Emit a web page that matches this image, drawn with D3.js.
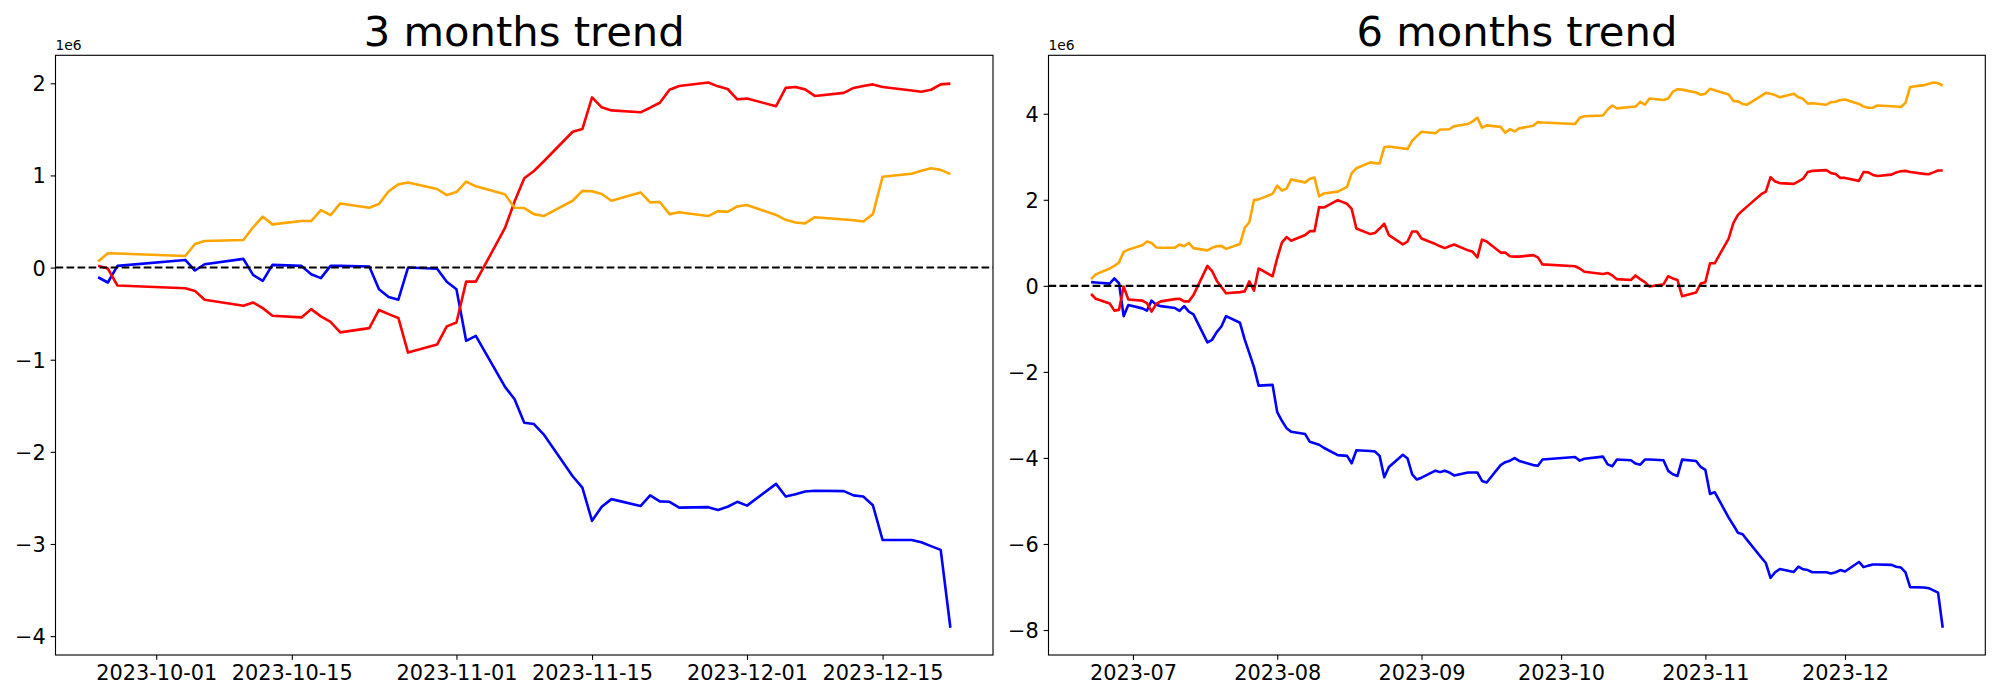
<!DOCTYPE html>
<html>
<head>
<meta charset="utf-8">
<script src="https://cdn.jsdelivr.net/npm/d3@7"></script>
<style>
  html, body { margin: 0; padding: 0; background: #fff; }
  svg { display: block; }
  text { font-family: "DejaVu Sans", sans-serif; fill: #000; }
</style>
</head>
<body>
<svg id="chart" width="2000" height="700"></svg>
<script>
// ---------------- DATA (values in units of 1e6) ----------------
const dates3 = [
  "2023-09-25","2023-09-26","2023-09-27",
  "2023-10-04","2023-10-05","2023-10-06","2023-10-10","2023-10-11","2023-10-12","2023-10-13",
  "2023-10-16","2023-10-17","2023-10-18","2023-10-19","2023-10-20","2023-10-23","2023-10-24",
  "2023-10-25","2023-10-26","2023-10-27","2023-10-30","2023-10-31",
  "2023-11-01","2023-11-02","2023-11-03","2023-11-06","2023-11-07","2023-11-08","2023-11-09",
  "2023-11-10","2023-11-13","2023-11-14","2023-11-15","2023-11-16","2023-11-17","2023-11-20",
  "2023-11-21","2023-11-22","2023-11-23","2023-11-24","2023-11-27","2023-11-28","2023-11-29","2023-11-30",
  "2023-12-01","2023-12-04","2023-12-05","2023-12-06","2023-12-07","2023-12-08","2023-12-11",
  "2023-12-12","2023-12-13","2023-12-14","2023-12-15","2023-12-18","2023-12-19","2023-12-20",
  "2023-12-21","2023-12-22"
];
const blue3 = [
  -0.105,-0.162,0.018,
  0.083,-0.032,0.036,0.094,-0.079,-0.144,0.029,0.018,-0.072,-0.115,0.018,0.018,0.011,-0.236,-0.319,-0.348,0.0,-0.012,-0.153,
  -0.236,-0.795,-0.741,-1.292,-1.429,-1.685,-1.698,-1.81,-2.265,-2.389,-2.749,-2.596,-2.513,-2.588,-2.472,-2.538,-2.542,-2.605,-2.600,-2.63,-2.596,-2.542,
  -2.584,-2.348,-2.484,-2.46,-2.43,-2.422,-2.426,-2.472,-2.484,-2.58,-2.957,-2.957,-2.981,-3.023,-3.064,-3.909
];
const red3 = [
  0.02,-0.01,-0.195,
  -0.224,-0.253,-0.35,-0.415,-0.379,-0.44,-0.523,-0.541,-0.451,-0.53,-0.59,-0.703,-0.657,-0.46,-0.505,-0.547,-0.923,-0.836,-0.638,
  -0.596,-0.153,-0.153,0.427,0.716,0.969,1.048,1.151,1.474,1.503,1.847,1.739,1.706,1.685,1.735,1.789,1.93,1.971,2.008,1.967,1.938,1.826,
  1.834,1.752,1.95,1.959,1.934,1.863,1.896,1.95,1.971,1.988,1.959,1.921,1.909,1.93,1.988,1.996
];
const orange3 = [
  0.065,0.155,0.152,
  0.126,0.256,0.289,0.30,0.437,0.552,0.469,0.505,0.505,0.624,0.57,0.696,0.649,0.69,0.828,0.903,0.923,0.853,0.787,
  0.82,0.932,0.882,0.795,0.65,0.646,0.58,0.559,0.725,0.832,0.828,0.799,0.725,0.816,0.708,0.712,0.58,0.60,0.559,0.613,0.605,0.663,
  0.679,0.571,0.518,0.489,0.48,0.547,0.522,0.513,0.50,0.58,0.986,1.019,1.052,1.077,1.06,1.014
];

const dates6 = [
  "2023-06-22","2023-06-23","2023-06-26","2023-06-27","2023-06-28","2023-06-29","2023-06-30",
  "2023-07-03","2023-07-04","2023-07-05","2023-07-06","2023-07-07","2023-07-10","2023-07-11",
  "2023-07-12","2023-07-13","2023-07-14","2023-07-17","2023-07-18","2023-07-19","2023-07-20",
  "2023-07-21","2023-07-24","2023-07-25","2023-07-26","2023-07-27","2023-07-28","2023-07-31",
  "2023-08-01","2023-08-02","2023-08-03","2023-08-04","2023-08-07","2023-08-08","2023-08-09",
  "2023-08-10","2023-08-11","2023-08-14","2023-08-16","2023-08-17","2023-08-18","2023-08-21",
  "2023-08-22","2023-08-23","2023-08-24","2023-08-25","2023-08-28","2023-08-29","2023-08-30","2023-08-31",
  "2023-09-01","2023-09-04","2023-09-05","2023-09-06","2023-09-07","2023-09-08","2023-09-11",
  "2023-09-12","2023-09-13","2023-09-14","2023-09-15","2023-09-18","2023-09-19","2023-09-20",
  "2023-09-21","2023-09-22","2023-09-25","2023-09-26","2023-09-27",
  "2023-10-04","2023-10-05","2023-10-06","2023-10-10","2023-10-11","2023-10-12","2023-10-13",
  "2023-10-16","2023-10-17","2023-10-18","2023-10-19","2023-10-20","2023-10-23","2023-10-24",
  "2023-10-25","2023-10-26","2023-10-27","2023-10-30","2023-10-31",
  "2023-11-01","2023-11-02","2023-11-03","2023-11-06","2023-11-07","2023-11-08","2023-11-09",
  "2023-11-10","2023-11-13","2023-11-14","2023-11-15","2023-11-16","2023-11-17","2023-11-20",
  "2023-11-21","2023-11-22","2023-11-23","2023-11-24","2023-11-27","2023-11-28","2023-11-29","2023-11-30",
  "2023-12-01","2023-12-04","2023-12-05","2023-12-06","2023-12-07","2023-12-08","2023-12-11",
  "2023-12-12","2023-12-13","2023-12-14","2023-12-15","2023-12-18","2023-12-19","2023-12-20",
  "2023-12-21","2023-12-22"
];
const blue6 = [
  0.086,0.077,0.052,0.172,0.06,-0.704,-0.447,
  -0.524,-0.576,-0.344,-0.438,-0.472,-0.515,-0.584,-0.472,-0.601,-0.662,-1.314,-1.254,-1.074,-0.945,-0.704,-0.859,-1.246,-1.564,-1.89,-2.32,-2.302,
  -2.938,-3.136,-3.308,-3.393,-3.445,-3.625,-3.66,-3.694,-3.763,-3.935,-3.952,-4.124,-3.823,-3.84,-3.849,-3.952,-4.45,-4.21,-3.926,-4.012,-4.381,-4.502,
  -4.459,-4.296,-4.33,-4.296,-4.338,-4.407,-4.338,-4.338,-4.338,-4.536,-4.57,-4.167,-4.098,-4.063,-4.003,-4.07,-4.167,-4.18,-4.038,
  -3.978,-4.063,-4.021,-3.969,-4.15,-4.192,-4.038,-4.055,-4.132,-4.158,-4.038,-4.038,-4.055,-4.30,-4.38,-4.42,-4.04,-4.072,-4.21,
  -4.278,-4.837,-4.794,-5.387,-5.558,-5.739,-5.773,-5.91,-6.314,-6.443,-6.787,-6.658,-6.581,-6.65,-6.529,-6.589,-6.606,-6.658,-6.658,-6.684,-6.658,-6.606,
  -6.641,-6.418,-6.538,-6.503,-6.478,-6.478,-6.486,-6.529,-6.546,-6.658,-7.002,-7.01,-7.027,-7.079,-7.13,-7.947
];
const red6 = [
  -0.189,-0.30,-0.412,-0.576,-0.558,-0.017,-0.318,
  -0.344,-0.404,-0.601,-0.421,-0.361,-0.309,-0.30,-0.361,-0.361,-0.215,0.464,0.344,0.12,-0.026,-0.172,-0.146,-0.129,0.103,-0.112,0.404,0.223,
  0.644,1.005,1.134,1.048,1.18,1.271,1.271,1.83,1.82,1.993,1.907,1.787,1.332,1.203,1.229,1.332,1.443,1.177,0.962,1.031,1.263,1.263,
  1.10,0.971,0.919,0.876,0.919,0.962,0.825,0.79,0.661,1.074,1.031,0.773,0.773,0.687,0.679,0.679,0.713,0.662,0.498,
  0.455,0.404,0.326,0.275,0.30,0.241,0.155,0.137,0.241,0.155,0.086,-0.017,0.034,0.223,0.172,0.137,-0.241,-0.155,0.052,
  0.086,0.524,0.524,1.10,1.46,1.649,1.753,1.847,2.13,2.19,2.526,2.423,2.388,2.371,2.43,2.491,2.646,2.672,2.689,2.62,2.6,2.509,
  2.509,2.44,2.646,2.637,2.577,2.552,2.586,2.637,2.663,2.672,2.646,2.603,2.595,2.637,2.68,2.68
];
const orange6 = [
  0.155,0.266,0.404,0.464,0.541,0.79,0.842,
  0.945,1.031,0.997,0.893,0.885,0.885,0.962,0.919,0.997,0.876,0.825,0.885,0.919,0.928,0.859,0.971,1.349,1.478,1.993,2.01,2.139,
  2.328,2.216,2.259,2.474,2.405,2.491,2.517,2.079,2.148,2.19,2.302,2.62,2.732,2.869,2.852,2.844,3.222,3.239,3.196,3.179,3.376,3.479,
  3.582,3.548,3.634,3.634,3.64,3.711,3.763,3.823,3.909,3.677,3.729,3.694,3.557,3.643,3.591,3.66,3.72,3.806,3.797,
  3.763,3.909,3.943,3.96,4.098,4.192,4.124,4.158,4.167,4.278,4.21,4.356,4.321,4.356,4.51,4.57,4.561,4.493,4.442,
  4.467,4.579,4.545,4.45,4.30,4.287,4.227,4.21,4.416,4.485,4.467,4.433,4.381,4.467,4.381,4.347,4.235,4.244,4.21,4.27,4.278,4.321,
  4.33,4.227,4.167,4.141,4.141,4.192,4.175,4.167,4.158,4.253,4.622,4.665,4.699,4.725,4.708,4.656
];

const yTicks3 = [-4, -3, -2, -1, 0, 1, 2];
const yTicks6 = [-8, -6, -4, -2, 0, 2, 4];
const xTicks3 = ["2023-10-01","2023-10-15","2023-11-01","2023-11-15","2023-12-01","2023-12-15"];
const xTickLabels3 = ["2023-10-01","2023-10-15","2023-11-01","2023-11-15","2023-12-01","2023-12-15"];
const xTicks6 = ["2023-07-01","2023-08-01","2023-09-01","2023-10-01","2023-11-01","2023-12-01"];
const xTickLabels6 = ["2023-07","2023-08","2023-09","2023-10","2023-11","2023-12"];
const titles = ["3 months trend", "6 months trend"];
const seriesColors = ["blue", "red", "orange"];
const offsetLabel = "1e6";

// ---------------- DRAWING ----------------
const svg = d3.select("#chart");
svg.append("rect").attr("width", 2000).attr("height", 700).attr("fill", "#fff");
const parse = d3.utcParse("%Y-%m-%d");

const TICK_FS = 20.83, TITLE_FS = 41.67, OFFSET_FS = 13.89;
const TICK_LEN = 4.86, TICK_PAD = 4.86, LW = 2.6, DASH_LW = 2.08;

function panel(box, title, dates, series, yTicks, xTicks, xLabels) {
  const d = dates.map(parse);
  const g = svg.append("g");
  const x0 = box.x0, x1 = box.x1, y0 = box.y0, y1 = box.y1;

  const [dmin, dmax] = d3.extent(d);
  const span = dmax - dmin;
  const x = d3.scaleUtc()
    .domain([new Date(+dmin - 0.05 * span), new Date(+dmax + 0.05 * span)])
    .range([x0, x1]);

  const all = series.flatMap(s => s.values);
  const [vmin, vmax] = d3.extent(all);
  const vs = vmax - vmin;
  const y = d3.scaleLinear()
    .domain([vmin - 0.05 * vs, vmax + 0.05 * vs])
    .range([y1, y0]);

  // series lines
  const line = d3.line().x((v, i) => x(d[i])).y(v => y(v));
  series.forEach(s => {
    g.append("path")
      .attr("d", line(s.values))
      .attr("fill", "none")
      .attr("stroke", s.color)
      .attr("stroke-width", LW)
      .attr("stroke-linejoin", "round")
      .attr("stroke-linecap", "butt");
  });

  // zero dashed line
  g.append("line")
    .attr("x1", x0).attr("x2", x1)
    .attr("y1", y(0)).attr("y2", y(0))
    .attr("stroke", "#000")
    .attr("stroke-width", DASH_LW)
    .attr("stroke-dasharray", `${3.7 * DASH_LW},${1.6 * DASH_LW}`);

  // x axis
  const xa = g.append("g").attr("transform", `translate(0,${y1})`)
    .call(d3.axisBottom(x)
      .tickValues(xTicks.map(parse))
      .tickFormat((t, i) => xLabels[i])
      .tickSize(TICK_LEN).tickPadding(TICK_PAD).tickSizeOuter(0));
  xa.select(".domain").remove();
  xa.selectAll("line").attr("stroke", "#000").attr("stroke-width", 1.11);
  xa.selectAll("text").attr("font-size", TICK_FS).attr("font-family", "DejaVu Sans").attr("fill", "#000");

  // y axis
  const ya = g.append("g").attr("transform", `translate(${x0},0)`)
    .call(d3.axisLeft(y)
      .tickValues(yTicks)
      .tickFormat(v => (v < 0 ? "\u2212" + Math.abs(v) : String(v)))
      .tickSize(TICK_LEN).tickPadding(TICK_PAD).tickSizeOuter(0));
  ya.select(".domain").remove();
  ya.selectAll("line").attr("stroke", "#000").attr("stroke-width", 1.11);
  ya.selectAll("text").attr("font-size", TICK_FS).attr("font-family", "DejaVu Sans")
    .attr("fill", "#000").attr("dy", "0.36em");

  // frame
  g.append("rect")
    .attr("x", x0).attr("y", y0)
    .attr("width", x1 - x0).attr("height", y1 - y0)
    .attr("fill", "none").attr("stroke", "#000").attr("stroke-width", 1.11);

  // offset text
  g.append("text")
    .attr("x", x0).attr("y", y0 - 5)
    .attr("font-size", OFFSET_FS)
    .text(offsetLabel);

  // title
  g.append("text")
    .attr("x", (x0 + x1) / 2).attr("y", y0 - 9)
    .attr("text-anchor", "middle")
    .attr("font-size", TITLE_FS)
    .text(title);
}

panel({x0: 55.5, x1: 993, y0: 55.3, y1: 655}, titles[0], dates3,
  [{values: blue3, color: seriesColors[0]}, {values: red3, color: seriesColors[1]}, {values: orange3, color: seriesColors[2]}],
  yTicks3, xTicks3, xTickLabels3);

panel({x0: 1048.5, x1: 1985.3, y0: 55.3, y1: 655}, titles[1], dates6,
  [{values: blue6, color: seriesColors[0]}, {values: red6, color: seriesColors[1]}, {values: orange6, color: seriesColors[2]}],
  yTicks6, xTicks6, xTickLabels6);
</script>
</body>
</html>
